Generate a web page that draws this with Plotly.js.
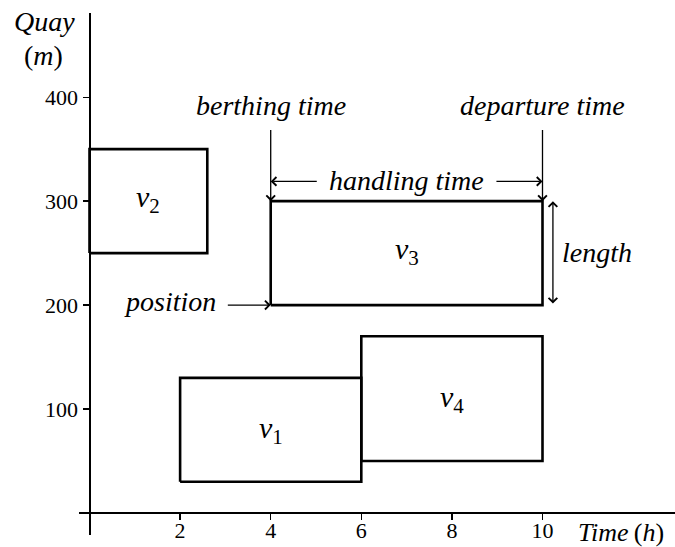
<!DOCTYPE html>
<html>
<head>
<meta charset="utf-8">
<script src="https://cdn.plot.ly/plotly-3.0.1.min.js"></script>
<style>html,body{margin:0;padding:0;background:#fff;}#chart{width:675px;height:547px;}</style>
</head>
<body>
<div id="chart"></div>
<script>
// Vessel data
const vessels = ["v1", "v2", "v3", "v4"];
const berthTime = [2, 0, 4, 6];
const departTime = [6, 2.6, 10, 10];
const position = [30, 250, 200, 50];
const length = [100, 100, 100, 120];
const labelX = [4, 1.3, 7, 8];
const labelY = [80, 302, 252, 110];
const subs = ["1", "2", "3", "4"];

const xTicks = [2, 4, 6, 8, 10];
const yTicks = [100, 200, 300, 400];

const FONT = "Liberation Serif";

const traces = vessels.map((v, i) => ({
  type: "scatter",
  mode: "lines",
  x: [berthTime[i], departTime[i], departTime[i], berthTime[i], berthTime[i]],
  y: [position[i], position[i], position[i] + length[i], position[i] + length[i], position[i]],
  line: {color: "black", width: 2.6},
  hoverinfo: "skip",
  showlegend: false
}));

const annotations = vessels.map((v, i) => ({
  x: labelX[i], y: labelY[i], xref: "x", yref: "y",
  text: "<i>v</i><sub>" + subs[i] + "</sub>",
  showarrow: false,
  font: {family: FONT, size: 30, color: "black"}
}));

const it = (t) => "<i>" + t + "</i>";
const txt = (x, y, t, size) => ({x, y, xref: "x", yref: "y", text: t, showarrow: false,
  xanchor: "center", yanchor: "middle",
  font: {family: FONT, size: size || 28, color: "black"}});
const ptxt = (x, y, t, size) => ({x, y, xref: "paper", yref: "paper", text: t, showarrow: false,
  xanchor: "center", yanchor: "middle",
  font: {family: FONT, size: size || 28, color: "black"}});
const arrow = (x, y, ax, ay, side) => ({x, y, ax, ay, xref: "x", yref: "y", axref: "x", ayref: "y",
  text: "", showarrow: true, arrowhead: 4, startarrowhead: 4, arrowside: side || "end",
  arrowsize: 1.3, arrowwidth: 1.3, arrowcolor: "black", standoff: 0, startstandoff: 0});

// v3 reference annotations
const v3 = 2;
annotations.push(
  txt(berthTime[v3], 392, it("berthing time")),
  txt(departTime[v3], 392, it("departure time")),
  arrow(berthTime[v3], position[v3] + length[v3], berthTime[v3], 370),
  arrow(departTime[v3], position[v3] + length[v3], departTime[v3], 370),
  txt(7, 320, it("handling time")),
  arrow(berthTime[v3], 319, 5.05, 319),
  arrow(departTime[v3], 319, 8.95, 319),
  arrow(10.23, position[v3] + length[v3], 10.23, position[v3], "end+start"),
  txt(11.2, 251, it("length")),
  txt(1.78, 203, it("position")),
  arrow(berthTime[v3], position[v3], 3.02, position[v3]),
  // axis titles
  ptxt(-0.0587, 0.9828, it("Quay")),
  ptxt(-0.0604, 0.9195, "(" + it("m") + ")"),
  ptxt(0.9094, 0.004, it("Time") + "\u2009(" + it("h") + ")", 26)
);

const layout = {
  width: 675, height: 547,
  margin: {l: 79, r: 0, t: 13, b: 12, pad: 0},
  paper_bgcolor: "white", plot_bgcolor: "white",
  showlegend: false,
  xaxis: {
    range: [-0.232, 12.925], showgrid: false, zeroline: false,
    showline: true, linewidth: 2.5, linecolor: "black",
    anchor: "free", position: 0.0422,
    ticks: "outside", ticklen: 6, tickwidth: 1.3, tickcolor: "black",
    ticklabelstandoff: -9,
    tickvals: xTicks, ticktext: xTicks.map(String),
    tickfont: {family: FONT, size: 22, color: "black"}
  },
  yaxis: {
    range: [-21.2, 481], showgrid: false, zeroline: false,
    showline: true, linewidth: 2.5, linecolor: "black",
    anchor: "free", position: 0.01763,
    ticks: "outside", ticklen: 6, tickwidth: 1.3, tickcolor: "black",
    tickvals: yTicks, ticktext: yTicks.map(String),
    tickfont: {family: FONT, size: 22, color: "black"}
  },
  annotations: annotations
};

Plotly.newPlot("chart", traces, layout, {staticPlot: true, displayModeBar: false});
</script>
</body>
</html>
